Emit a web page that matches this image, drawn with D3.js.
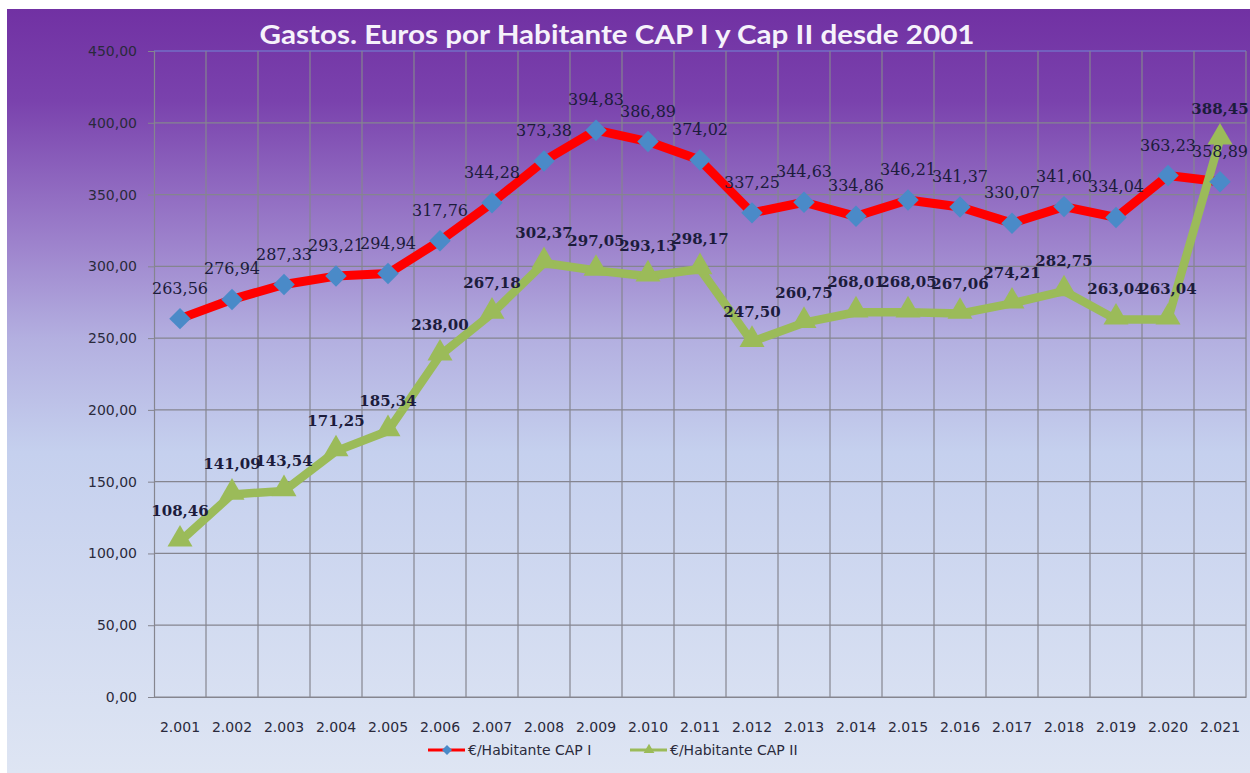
<!DOCTYPE html>
<html>
<head>
<meta charset="utf-8">
<script src="https://cdn.jsdelivr.net/npm/d3@7"></script>
<style>
  html, body { margin: 0; padding: 0; background: #fff; }
  svg { display: block; }
</style>
</head>
<body>
<div id="chart"></div>
<script>
// the data
var years = ['2.001', '2.002', '2.003', '2.004', '2.005', '2.006', '2.007', '2.008', '2.009', '2.010',
  '2.011', '2.012', '2.013', '2.014', '2.015', '2.016', '2.017', '2.018', '2.019', '2.020', '2.021'];
var cap1 = [263.56, 276.94, 287.33, 293.21, 294.94, 317.76, 344.28, 373.38, 394.83, 386.89,
  374.02, 337.25, 344.63, 334.86, 346.21, 341.37, 330.07, 341.60, 334.04, 363.23, 358.89];
var cap2 = [108.46, 141.09, 143.54, 171.25, 185.34, 238.00, 267.18, 302.37, 297.05, 293.13,
  298.17, 247.50, 260.75, 268.01, 268.05, 267.06, 274.21, 282.75, 263.04, 263.04, 388.45];
var yTicks = [0, 50, 100, 150, 200, 250, 300, 350, 400, 450];
var seriesNames = ['€/Habitante CAP I', '€/Habitante CAP II'];
var title = 'Gastos. Euros por Habitante CAP I y Cap II desde 2001';

var width = 1250, height = 773;
var plot = { left: 154, right: 1246, top: 51, bottom: 697 };

// spanish number format
var es = d3.formatLocale({ decimal: ',', thousands: '.', grouping: [3], currency: ['', ' €'] });
var fmt = es.format('.2f');

var svg = d3.select('#chart')
  .append('svg')
  .attr('width', width)
  .attr('height', height);

// background gradient, purple on top fading to pale blue
var grad = svg.append('defs')
  .append('linearGradient')
  .attr('id', 'bg')
  .attr('x1', 0).attr('y1', 0).attr('x2', 0).attr('y2', 1);
[[0, '#7131a3'], [0.12, '#7a42ad'], [0.3, '#9c80cb'], [0.43, '#b3afe0'], [0.58, '#c5d0ee'], [1, '#dee5f3']]
  .forEach(function(s) {
    grad.append('stop').attr('offset', s[0]).attr('stop-color', s[1]);
  });

svg.append('rect')
  .attr('x', 7).attr('y', 9)
  .attr('width', width - 7).attr('height', height - 9)
  .attr('fill', 'url(#bg)');

var x = d3.scaleBand()
  .domain(years)
  .range([plot.left, plot.right])
  .padding(0);

var y = d3.scaleLinear()
  .domain([0, 450])
  .range([plot.bottom, plot.top]);

var cx = function(i) { return x(years[i]) + x.bandwidth() / 2; };

// grid
var grid = svg.append('g').attr('class', 'grid');
grid.selectAll('line.h')
  .data(yTicks)
  .enter().append('line')
  .attr('class', 'h')
  .attr('x1', plot.left).attr('x2', plot.right)
  .attr('y1', function(d) { return y(d); })
  .attr('y2', function(d) { return y(d); })
  .attr('stroke', function(d) { return d === 450 ? '#7387d6' : '#85858f'; })
  .attr('stroke-width', 1.2);

grid.selectAll('line.v')
  .data(years.slice(1).concat(['end']))
  .enter().append('line')
  .attr('class', 'v')
  .attr('x1', function(d) { return d === 'end' ? plot.right : x(d); })
  .attr('x2', function(d) { return d === 'end' ? plot.right : x(d); })
  .attr('y1', plot.top).attr('y2', plot.bottom)
  .attr('stroke', '#85858f')
  .attr('stroke-width', 1.2);

// y axis
var yAxis = svg.append('g')
  .attr('transform', 'translate(' + plot.left + ',0)')
  .call(d3.axisLeft(y).tickValues(yTicks).tickSize(6).tickPadding(11).tickFormat(fmt));
yAxis.select('.domain').attr('stroke', '#85858f').attr('stroke-width', 1.2);
yAxis.selectAll('.tick line').attr('stroke', '#85858f');
yAxis.selectAll('.tick text')
  .attr('fill', '#2a2a3c')
  .style('font-family', 'DejaVu Sans, sans-serif')
  .style('font-size', '14px');

// x axis
var xAxis = svg.append('g')
  .attr('transform', 'translate(0,' + plot.bottom + ')')
  .call(d3.axisBottom(x).tickSize(0).tickPadding(25));
xAxis.select('.domain').attr('stroke', '#85858f').attr('stroke-width', 1.2);
xAxis.selectAll('.tick text')
  .attr('fill', '#2a2a3c')
  .style('font-family', 'DejaVu Sans, sans-serif')
  .style('font-size', '14px');

// lines
var line = d3.line()
  .x(function(d, i) { return cx(i); })
  .y(function(d) { return y(d); });

svg.append('path')
  .datum(cap1)
  .attr('d', line)
  .attr('fill', 'none')
  .attr('stroke', '#ff0000')
  .attr('stroke-width', 9)
  .attr('stroke-linejoin', 'round');

svg.append('path')
  .datum(cap2)
  .attr('d', line)
  .attr('fill', 'none')
  .attr('stroke', '#9bbb59')
  .attr('stroke-width', 8.5)
  .attr('stroke-linejoin', 'round');

// markers
var diamond = d3.symbol().type(d3.symbolSquare).size(230);
var triangle = d3.symbol().type(d3.symbolTriangle).size(270);

svg.append('g').selectAll('path')
  .data(cap1)
  .enter().append('path')
  .attr('d', diamond)
  .attr('transform', function(d, i) { return 'translate(' + cx(i) + ',' + y(d) + ') rotate(45)'; })
  .attr('fill', '#4a8ac8');

svg.append('g').selectAll('path')
  .data(cap2)
  .enter().append('path')
  .attr('d', triangle)
  .attr('transform', function(d, i) { return 'translate(' + cx(i) + ',' + (y(d) - 2) + ')'; })
  .attr('fill', '#9bbb59');

// data labels
svg.append('g').selectAll('text')
  .data(cap1)
  .enter().append('text')
  .attr('x', function(d, i) { return cx(i); })
  .attr('y', function(d) { return y(d) - 25; })
  .attr('text-anchor', 'middle')
  .attr('fill', '#1c1c3c')
  .style('font-family', 'DejaVu Serif, serif')
  .style('font-size', '16px')
  .text(fmt);

svg.append('g').selectAll('text')
  .data(cap2)
  .enter().append('text')
  .attr('x', function(d, i) { return cx(i); })
  .attr('y', function(d) { return y(d) - 25; })
  .attr('text-anchor', 'middle')
  .attr('fill', '#1c1c3c')
  .style('font-family', 'DejaVu Serif, serif')
  .style('font-weight', 'bold')
  .style('font-size', '15px')
  .text(fmt);

// title
svg.append('text')
  .attr('x', 617)
  .attr('y', 44)
  .attr('text-anchor', 'middle')
  .attr('fill', '#f6f2fb')
  .attr('textLength', 715)
  .attr('lengthAdjust', 'spacingAndGlyphs')
  .style('font-family', 'Lato, sans-serif')
  .style('font-weight', 'bold')
  .style('font-size', '26px')
  .text(title);

// legend
var legend = svg.append('g').attr('transform', 'translate(0,750)');
var items = [
  { name: seriesNames[0], color: '#ff0000', mark: '#4a8ac8', sym: d3.symbolSquare, rot: 45, x: 428 },
  { name: seriesNames[1], color: '#9bbb59', mark: '#9bbb59', sym: d3.symbolTriangle, rot: 0, x: 630 }
];
items.forEach(function(it) {
  legend.append('line')
    .attr('x1', it.x).attr('x2', it.x + 37)
    .attr('y1', 0).attr('y2', 0)
    .attr('stroke', it.color)
    .attr('stroke-width', 3);
  legend.append('path')
    .attr('d', d3.symbol().type(it.sym).size(50))
    .attr('transform', 'translate(' + (it.x + 19) + ',0) rotate(' + it.rot + ')')
    .attr('fill', it.mark);
  legend.append('text')
    .attr('x', it.x + 40)
    .attr('y', 5)
    .attr('fill', '#2a2a3c')
    .style('font-family', 'DejaVu Sans, sans-serif')
    .style('font-size', '14px')
    .text(it.name);
});
</script>
</body>
</html>
